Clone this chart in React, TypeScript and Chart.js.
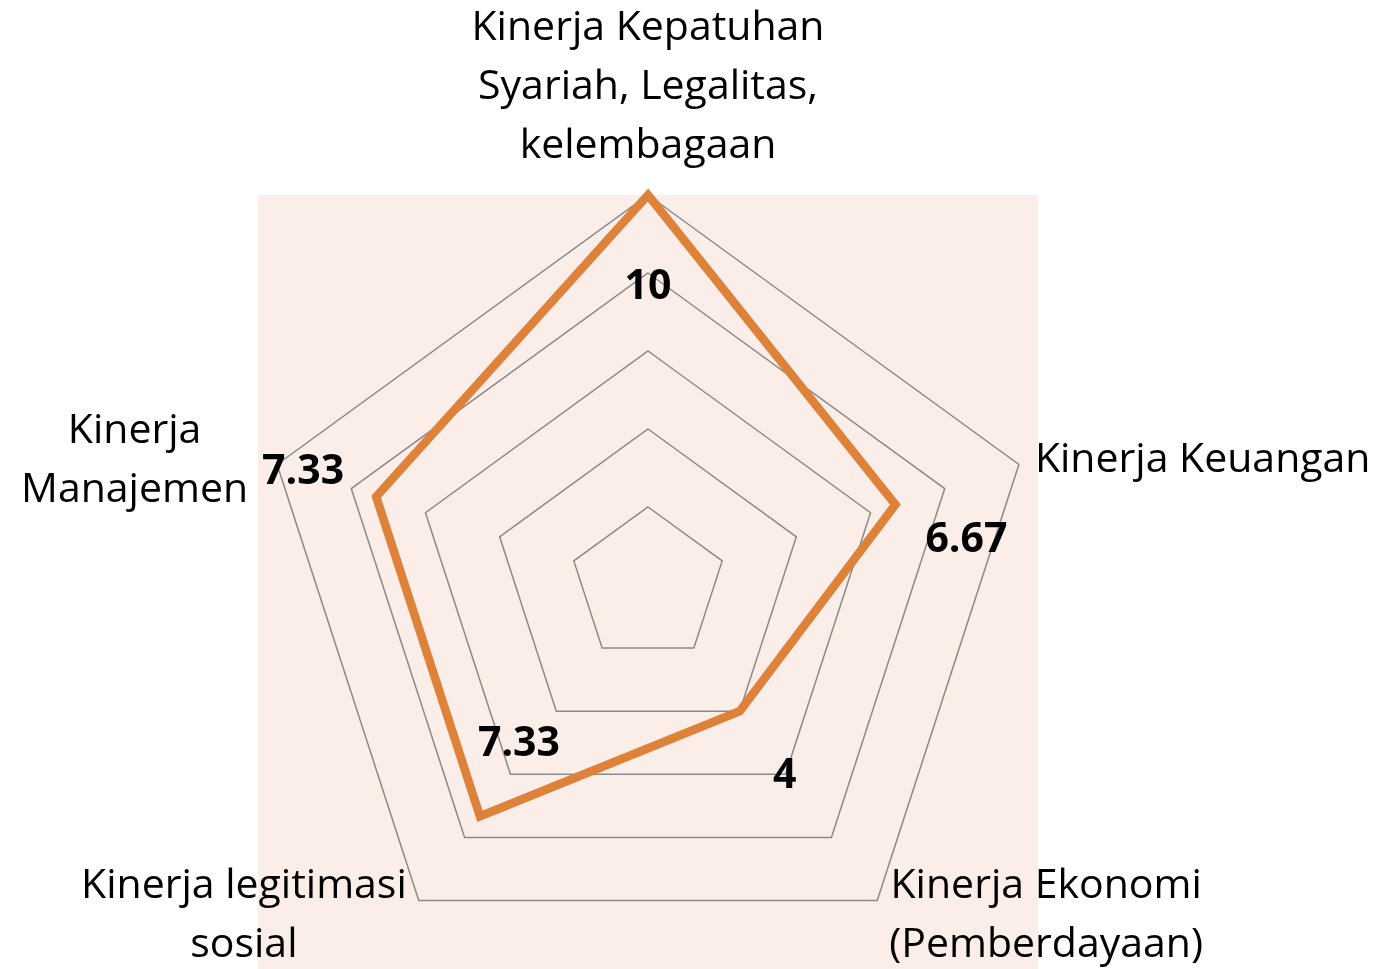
import React, { useEffect, useRef } from "react";
import { Chart, registerables } from "chart.js";

Chart.register(...registerables);

// ---- Data ----
const categories: string[][] = [
  ["Kinerja Kepatuhan", "Syariah, Legalitas,", "kelembagaan"],
  ["Kinerja Keuangan"],
  ["Kinerja Ekonomi", "(Pemberdayaan)"],
  ["Kinerja legitimasi", "sosial"],
  ["Kinerja", "Manajemen"],
];
const scores: number[] = [10, 6.67, 4, 7.33, 7.33];
const valueLabels: string[] = ["10", "6.67", "4", "7.33", "7.33"];
const axisTicks: number[] = [0, 2, 4, 6, 8, 10];

// ---- Layout / style ----
const FONT_FAMILY = "'Open Sans', Lato, sans-serif";
const CAT_FONT_SIZE = 41;
const CAT_LINE_HEIGHT = 59;
const VALUE_FONT_SIZE = 41;
const LINE_COLOR = "#DE8139";
const GRID_COLOR = "#8a8a8a";
const PLOT_BG = "#FBEEE9";

// label placement relative to each axis' outer vertex
const categoryLabelLayout: { align: "center" | "left" | "right"; dx: number; dy: number }[] = [
  { align: "center", dx: 0, dy: -155 },
  { align: "left", dx: 16, dy: 8 },
  { align: "left", dx: 12, dy: -3 },
  { align: "right", dx: -12, dy: -3 },
  { align: "right", dx: -29, dy: -21 },
];
// value label centre offsets relative to each data point
const valueLabelOffsets: [number, number][] = [
  [0, 92],
  [71, 36],
  [45, 65],
  [39, -72],
  [-73, -24],
];

const plotBackground = {
  id: "plotBackground",
  beforeDraw(chart: any) {
    const { ctx, chartArea } = chart;
    ctx.save();
    ctx.fillStyle = PLOT_BG;
    ctx.fillRect(chartArea.left, chartArea.top, chartArea.right - chartArea.left, chartArea.bottom - chartArea.top);
    ctx.restore();
  },
};

const customLabels = {
  id: "customLabels",
  afterDraw(chart: any) {
    const { ctx } = chart;
    const scale = chart.scales.r;
    ctx.save();
    ctx.fillStyle = "#000";
    // category labels
    ctx.font = `${CAT_FONT_SIZE}px ${FONT_FAMILY}`;
    ctx.textBaseline = "alphabetic";
    ctx.textAlign = "center";
    categories.forEach((lines, i) => {
      const p = scale.getPointPosition(i, scale.drawingArea);
      const lay = categoryLabelLayout[i];
      const w = Math.max(...lines.map((l) => ctx.measureText(l).width));
      let cx = p.x + lay.dx;
      if (lay.align === "left") cx = p.x + lay.dx + w / 2;
      if (lay.align === "right") cx = p.x + lay.dx - w / 2;
      lines.forEach((line, k) => {
        ctx.fillText(line, cx, p.y + lay.dy + k * CAT_LINE_HEIGHT);
      });
    });
    // value labels
    ctx.font = `bold ${VALUE_FONT_SIZE}px ${FONT_FAMILY}`;
    ctx.textBaseline = "middle";
    const meta = chart.getDatasetMeta(0);
    meta.data.forEach((pt: any, i: number) => {
      const [ox, oy] = valueLabelOffsets[i];
      ctx.fillText(valueLabels[i], pt.x + ox, pt.y + oy);
    });
    ctx.restore();
  },
};

export default function App() {
  const canvasRef = useRef<HTMLCanvasElement | null>(null);

  useEffect(() => {
    if (!canvasRef.current) return;
    const chart = new Chart(canvasRef.current, {
      type: "radar",
      data: {
        labels: categories.map((c) => c.join(" ")),
        datasets: [
          {
            data: scores,
            borderColor: LINE_COLOR,
            backgroundColor: "rgba(0,0,0,0)",
            borderWidth: 8.5,
            borderJoinStyle: "miter",
            fill: false,
            pointRadius: 0,
            pointHoverRadius: 0,
            tension: 0,
          },
        ],
      },
      options: {
        animation: false,
        responsive: false,
        events: [],
        layout: { padding: { left: 258, right: 349, top: 195, bottom: 0 } },
        plugins: {
          legend: { display: false },
          tooltip: { enabled: false },
          title: { display: false },
        },
        scales: {
          r: {
            min: axisTicks[0],
            max: axisTicks[axisTicks.length - 1],
            ticks: { display: false, stepSize: axisTicks[1] - axisTicks[0] },
            grid: { color: GRID_COLOR, lineWidth: 1.5 },
            angleLines: { display: false },
            pointLabels: { display: false },
          },
        },
      },
      plugins: [plotBackground, customLabels],
    });
    return () => chart.destroy();
  }, []);

  return (
    <div style={{ position: "fixed", left: 0, top: 0, width: 1387, height: 975, background: "#fff" }}>
      <canvas ref={canvasRef} width={1387} height={975} style={{ display: "block" }} />
    </div>
  );
}
